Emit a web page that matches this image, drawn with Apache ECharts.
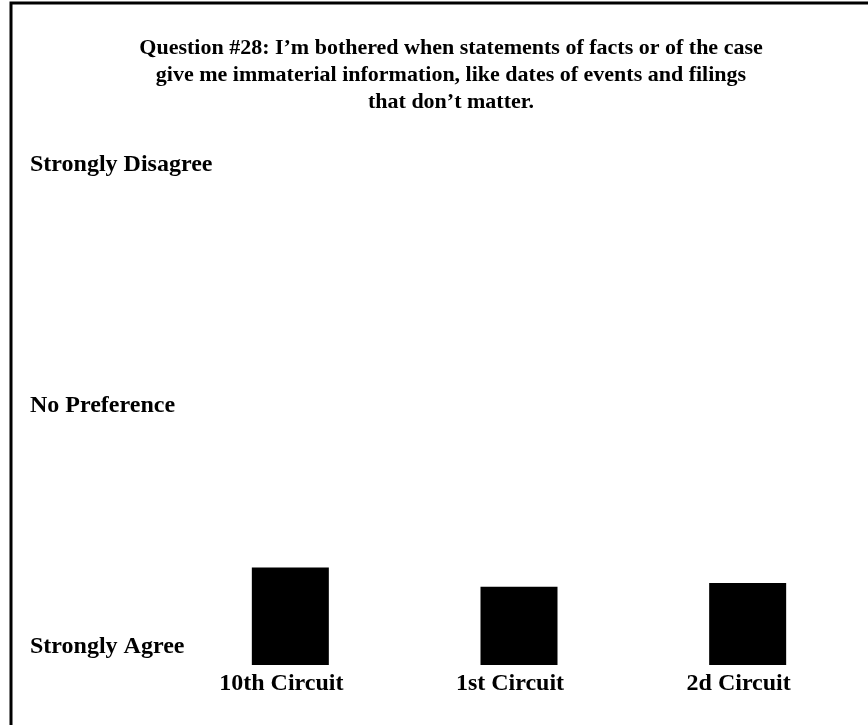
<!DOCTYPE html>
<html>
<head>
<meta charset="utf-8">
<script src="https://cdn.jsdelivr.net/npm/echarts@6/dist/echarts.min.js"></script>
<style>
  html, body { margin: 0; padding: 0; background: #fff; }
  #chart { width: 868px; height: 725px; }
</style>
</head>
<body>
<div id="chart"></div>
<script>
const titleText = "Question #28: I\u2019m bothered when statements of facts or of the case\ngive me immaterial information, like dates of events and filings\nthat don\u2019t matter.";
const circuits = ["10th Circuit", "1st Circuit", "2d Circuit"];
const scores = [1.81, 1.65, 1.68];
// 1 = Strongly Agree, 3 = No Preference, 5 = Strongly Disagree
const scaleLabels = { 1: "Strongly Agree", 3: "No Preference", 5: "Strongly Disagree" };

const font = "Liberation Serif";
const chart = echarts.init(document.getElementById("chart"));

const option = {
  backgroundColor: "#fff",
  animation: false,
  title: {
    text: titleText,
    left: 446,
    top: 30,
    textAlign: "center",
    textStyle: {
      fontFamily: font,
      fontWeight: "bold",
      fontSize: 22,
      lineHeight: 27,
      color: "#000",
    },
  },
  graphic: [
    {
      type: "rect",
      shape: { x: 11, y: 3, width: 900, height: 800 },
      style: { fill: "none", stroke: "#000", lineWidth: 3 },
      silent: true,
    },
  ],
  grid: {
    left: 176,
    right: 6,
    top: 183,
    bottom: 60,
  },
  xAxis: {
    type: "category",
    data: circuits,
    axisLine: { show: false },
    axisTick: { show: false },
    axisLabel: {
      margin: 7,
      padding: [0, 18, 0, 0],
      fontFamily: font,
      fontWeight: "bold",
      fontSize: 24,
      color: "#000",
    },
  },
  yAxis: {
    type: "value",
    min: 1,
    max: 5,
    interval: 2,
    splitLine: { show: false },
    axisLine: { show: false },
    axisTick: { show: false },
    axisLabel: {
      align: "left",
      verticalAlign: "bottom",
      lineHeight: 36,
      margin: 146,
      fontFamily: font,
      fontWeight: "bold",
      fontSize: 24,
      color: "#000",
      formatter: (v) => scaleLabels[v] || "",
    },
  },
  series: [
    {
      type: "bar",
      data: scores,
      barWidth: 77,
      itemStyle: { color: "#000" },
    },
  ],
};

chart.setOption(option);
</script>
</body>
</html>
